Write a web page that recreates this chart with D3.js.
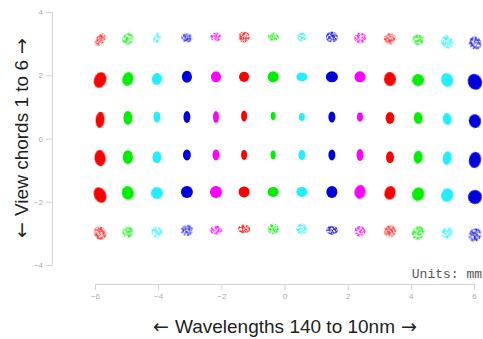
<!DOCTYPE html>
<html>
<head>
<meta charset="utf-8">
<script src="https://cdn.jsdelivr.net/npm/d3@7"></script>
<style>
  body { margin: 0; background: #fff; }
  .axis text { font-family: 'Liberation Sans', Arial, sans-serif; font-size: 8px; fill: #aaa; }
  .axis path, .axis line { stroke: #d4d4d4; }
  .arrow { font-family: 'DejaVu Sans', sans-serif; }
</style>
</head>
<body>
<div id="chart"></div>
<script>
// cluster centres, in mm
let columnX = [-5.84, -4.96, -4.04, -3.09, -2.17, -1.28, -0.36, 0.55, 1.5, 2.39, 3.34, 4.23, 5.15, 6.03]

let chordY = [
  [3.12, 3.15, 3.18, 3.18, 3.21, 3.21, 3.21, 3.21, 3.21, 3.18, 3.15, 3.12, 3.05, 3.02],
  [1.85, 1.88, 1.88, 1.95, 1.95, 1.95, 1.95, 1.95, 1.95, 1.95, 1.88, 1.85, 1.85, 1.79],
  [0.59, 0.65, 0.68, 0.68, 0.68, 0.71, 0.71, 0.68, 0.68, 0.68, 0.65, 0.65, 0.62, 0.55],
  [-0.62, -0.59, -0.59, -0.52, -0.52, -0.52, -0.52, -0.52, -0.52, -0.52, -0.59, -0.59, -0.62, -0.68],
  [-1.79, -1.72, -1.72, -1.69, -1.69, -1.69, -1.69, -1.69, -1.69, -1.69, -1.72, -1.76, -1.79, -1.85],
  [-2.99, -2.96, -2.96, -2.9, -2.9, -2.86, -2.86, -2.86, -2.9, -2.93, -2.93, -2.99, -2.99, -3.05]
]

// spread of each spot (width / height in mm, tilt in degrees)
let spotWidth = [
  [0.28, 0.35, 0.22, 0.35, 0.35, 0.35, 0.35, 0.28, 0.38, 0.38, 0.38, 0.35, 0.38, 0.38],
  [0.38, 0.35, 0.32, 0.32, 0.32, 0.32, 0.35, 0.35, 0.38, 0.35, 0.38, 0.38, 0.38, 0.44],
  [0.28, 0.28, 0.22, 0.22, 0.19, 0.19, 0.16, 0.19, 0.22, 0.19, 0.28, 0.28, 0.28, 0.38],
  [0.35, 0.32, 0.28, 0.25, 0.22, 0.19, 0.16, 0.22, 0.22, 0.22, 0.25, 0.28, 0.28, 0.38],
  [0.38, 0.38, 0.38, 0.38, 0.38, 0.35, 0.35, 0.35, 0.35, 0.35, 0.35, 0.38, 0.38, 0.44],
  [0.38, 0.35, 0.35, 0.38, 0.38, 0.38, 0.35, 0.35, 0.38, 0.35, 0.38, 0.38, 0.35, 0.38]
]

let spotHeight = [
  [0.44, 0.38, 0.35, 0.28, 0.28, 0.35, 0.28, 0.28, 0.35, 0.35, 0.35, 0.35, 0.44, 0.44],
  [0.51, 0.44, 0.38, 0.38, 0.35, 0.32, 0.35, 0.28, 0.35, 0.35, 0.44, 0.38, 0.44, 0.51],
  [0.51, 0.44, 0.35, 0.38, 0.38, 0.35, 0.25, 0.25, 0.35, 0.28, 0.38, 0.38, 0.38, 0.44],
  [0.51, 0.44, 0.38, 0.35, 0.35, 0.32, 0.28, 0.32, 0.35, 0.38, 0.38, 0.41, 0.44, 0.51],
  [0.51, 0.44, 0.38, 0.38, 0.38, 0.35, 0.32, 0.32, 0.38, 0.44, 0.44, 0.44, 0.44, 0.44],
  [0.44, 0.35, 0.35, 0.35, 0.28, 0.28, 0.35, 0.35, 0.28, 0.35, 0.38, 0.44, 0.38, 0.44]
]

let spotTilt = [
  [35, 30, 20, 10, 0, 0, 0, 0, 0, 0, -10, -20, -30, -35],
  [20, 15, 10, 0, 0, 0, 0, 0, 0, 0, -5, -10, -20, -25],
  [5, 0, 0, 0, 0, 0, 0, 0, 0, 0, 0, -5, -10, -10],
  [-5, 0, 0, 0, 0, 0, 0, 0, 0, 0, 0, 5, 10, 10],
  [-25, -15, -10, 0, 0, 0, 0, 0, 0, 10, 15, 20, 20, 25],
  [-35, -25, -15, -10, 0, 0, 0, 0, 0, 0, 10, 30, 30, 35]
]

let spotColors = ['#ff0000', '#00f000', '#22eeff', '#0000dd', '#ff00ff']

let xTicks = [-6, -4, -2, 0, 2, 4, 6]
let yTicks = [-4, -2, 0, 2, 4]

let width = 483
let height = 339

let svg = d3
  .select('#chart')
  .append('svg')
  .attr('width', width)
  .attr('height', height)

let xScale = d3
  .scaleLinear()
  .domain([-6, 6])
  .range([95, 474])

let yScale = d3
  .scaleLinear()
  .domain([-4, 4])
  .range([265, 12])

// filters: soft edge for the dense spots, grainy for the outer chords
let defs = svg.append('defs')

defs
  .append('filter')
  .attr('id', 'soft')
  .attr('x', '-50%')
  .attr('y', '-50%')
  .attr('width', '200%')
  .attr('height', '200%')
  .append('feGaussianBlur')
  .attr('stdDeviation', 0.7)

let speckle = defs
  .append('filter')
  .attr('id', 'speckle')
  .attr('x', '-50%')
  .attr('y', '-50%')
  .attr('width', '200%')
  .attr('height', '200%')

speckle
  .append('feTurbulence')
  .attr('type', 'fractalNoise')
  .attr('baseFrequency', 0.45)
  .attr('numOctaves', 2)
  .attr('seed', 4)
  .attr('result', 'noise')

speckle
  .append('feColorMatrix')
  .attr('in', 'noise')
  .attr('type', 'matrix')
  .attr('values', '0 0 0 0 0  0 0 0 0 0  0 0 0 0 0  0 0 0 3 -0.9')
  .attr('result', 'mask')

speckle
  .append('feComposite')
  .attr('in', 'SourceGraphic')
  .attr('in2', 'mask')
  .attr('operator', 'in')
  .attr('result', 'grain')

speckle
  .append('feGaussianBlur')
  .attr('in', 'grain')
  .attr('stdDeviation', 0.7)

// axes
svg
  .append('g')
  .attr('class', 'axis')
  .attr('transform', `translate(0,${284})`)
  .call(d3.axisBottom(xScale).tickValues(xTicks).tickSize(6))

svg
  .append('g')
  .attr('class', 'axis')
  .attr('transform', `translate(${52},0)`)
  .call(d3.axisLeft(yScale).tickValues(yTicks).tickSize(6))

// spots
let spots = []
chordY.forEach((row, r) => {
  row.forEach((yValue, c) => {
    spots.push({
      row: r,
      col: c,
      x: columnX[c],
      y: yValue,
      w: spotWidth[r][c],
      h: spotHeight[r][c],
      tilt: spotTilt[r][c]
    })
  })
})

svg
  .selectAll('.spot')
  .data(spots)
  .enter()
  .append('ellipse')
  .attr('class', 'spot')
  .attr('cx', d => xScale(d.x))
  .attr('cy', d => yScale(d.y))
  .attr('rx', d => (xScale(d.w) - xScale(0)) / 2)
  .attr('ry', d => (yScale(0) - yScale(d.h)) / 2)
  .attr('transform', d => `rotate(${d.tilt},${xScale(d.x)},${yScale(d.y)})`)
  .attr('fill', d => spotColors[d.col % 5])
  .attr('opacity', d => (d.row === 0 || d.row === 5 ? 0.8 : 1))
  .attr('filter', d => (d.row === 0 || d.row === 5 ? 'url(#speckle)' : 'url(#soft)'))

// labels
svg
  .append('text')
  .attr('x', 482)
  .attr('y', 278)
  .attr('text-anchor', 'end')
  .attr('font-family', "'Liberation Mono', 'Courier New', monospace")
  .attr('font-size', 13)
  .attr('fill', '#555')
  .text('Units: mm')

function axisTitle(el, words) {
  el.append('tspan').attr('class', 'arrow').text('← ')
  el.append('tspan').text(words)
  el.append('tspan').attr('class', 'arrow').text(' →')
}

svg
  .append('text')
  .attr('x', 285)
  .attr('y', 333)
  .attr('text-anchor', 'middle')
  .attr('font-family', "'Liberation Sans', Arial, sans-serif")
  .attr('font-size', 19)
  .attr('fill', '#222')
  .call(axisTitle, 'Wavelengths 140 to 10nm')

svg
  .append('text')
  .attr('transform', `translate(${28},${138})rotate(-90)`)
  .attr('text-anchor', 'middle')
  .attr('font-family', "'Liberation Sans', Arial, sans-serif")
  .attr('font-size', 19)
  .attr('fill', '#222')
  .call(axisTitle, 'View chords 1 to 6')
</script>
</body>
</html>
